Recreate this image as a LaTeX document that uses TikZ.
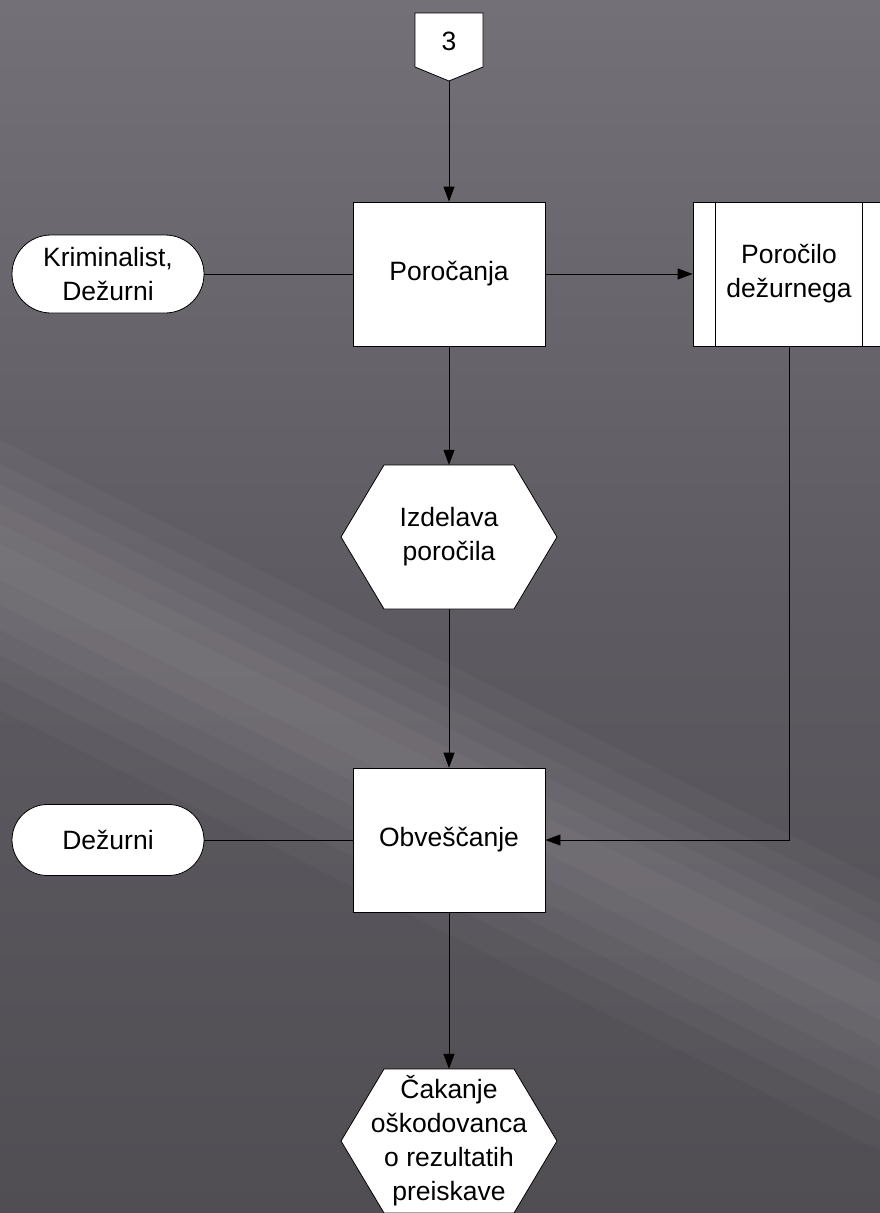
\documentclass[tikz,border=0pt]{standalone}
\usepackage{fontspec}
\setmainfont{Liberation Sans}
\usetikzlibrary{positioning,calc,arrows.meta,shapes.misc}

\definecolor{bgtop}{RGB}{116,112,119}
\definecolor{bgmid}{RGB}{94,90,97}
\definecolor{bgbot}{RGB}{80,77,83}

\newcommand{\flowfont}{\fontsize{26.5}{34}\selectfont}

\tikzset{
  proc/.style={draw, fill=white, line width=0.8pt, minimum width=192pt,
    minimum height=144pt, inner sep=0pt, align=center},
  term/.style={draw, fill=white, line width=0.8pt, rounded rectangle,
    minimum width=192pt, inner sep=0pt, align=center},
  hexlabel/.style={inner sep=0pt, minimum width=216pt, minimum height=144pt,
    align=center},
  hexshape/.style={draw, fill=white, line width=0.8pt, line join=miter},
  flow/.style={line width=0.8pt, -{Triangle[length=15pt,width=11pt]}},
  link/.style={line width=0.8pt},
}

\begin{document}
\begin{tikzpicture}[x=1pt, y=-1pt, font=\flowfont]
    \clip (0,0) rectangle (880,1213);
    % background
    \shade[top color=bgtop, bottom color=bgbot, middle color=bgmid]
      (0,0) rectangle (880,1213);
    \foreach \w in {20,45,70,95,120,150} {
      \fill[white, opacity=0.028] (0,560-\w*0.8) -- (880,1000-\w*0.8)
        -- (880,1000+\w) -- (0,560+\w) -- cycle;
    }

    % off-page connector
    \filldraw[hexshape] (415,13) -- (483,13) -- (483,67) -- (449,81)
      -- (415,67) -- cycle;
    \coordinate (offtip) at (449,81);
    \node (off) at (449,41) {3};

    % hexagons drawn below their labels
    \foreach \cy in {537,1141} {
      \filldraw[hexshape] (341,\cy) -- ++(43,-72) -- ++(130,0) -- ++(43,72)
        -- ++(-43,72) -- ++(-130,0) -- cycle;
    }

    \node[proc] (porocanja) at (449,274) {Poročanja};
    \node[proc] (porocilo) at (789,274) {Poročilo\\dežurnega};
    \draw[link] ([xshift=23pt]porocilo.north west) -- ([xshift=23pt]porocilo.south west);
    \draw[link] ([xshift=-23pt]porocilo.north east) -- ([xshift=-23pt]porocilo.south east);
    \node[term, minimum height=78pt] (krim) at (108,274) {Kriminalist,\\Dežurni};
    \node[hexlabel] (izdelava) at (449,537) {Izdelava\\poročila};
    \node[proc] (obvescanje) at (449,840) {Obveščanje};
    \node[term, minimum height=71pt] (dezurni) at (108,840) {Dežurni};
    \node[hexlabel] (cakanje) at (449,1141) {Čakanje\\oškodovanca\\o rezultatih\\preiskave};

    % connectors
    \draw[flow] (offtip) -- (porocanja.north);
    \draw[link] (krim.east) -- (porocanja.west);
    \draw[flow] (porocanja.east) -- (porocilo.west);
    \draw[flow] (porocanja.south) -- (izdelava.north);
    \draw[flow] (izdelava.south) -- (obvescanje.north);
    \draw[link] (dezurni.east) -- (obvescanje.west);
    \draw[flow] (porocilo.south) |- (obvescanje.east);
    \draw[flow] (obvescanje.south) -- (cakanje.north);
\end{tikzpicture}
\end{document}
